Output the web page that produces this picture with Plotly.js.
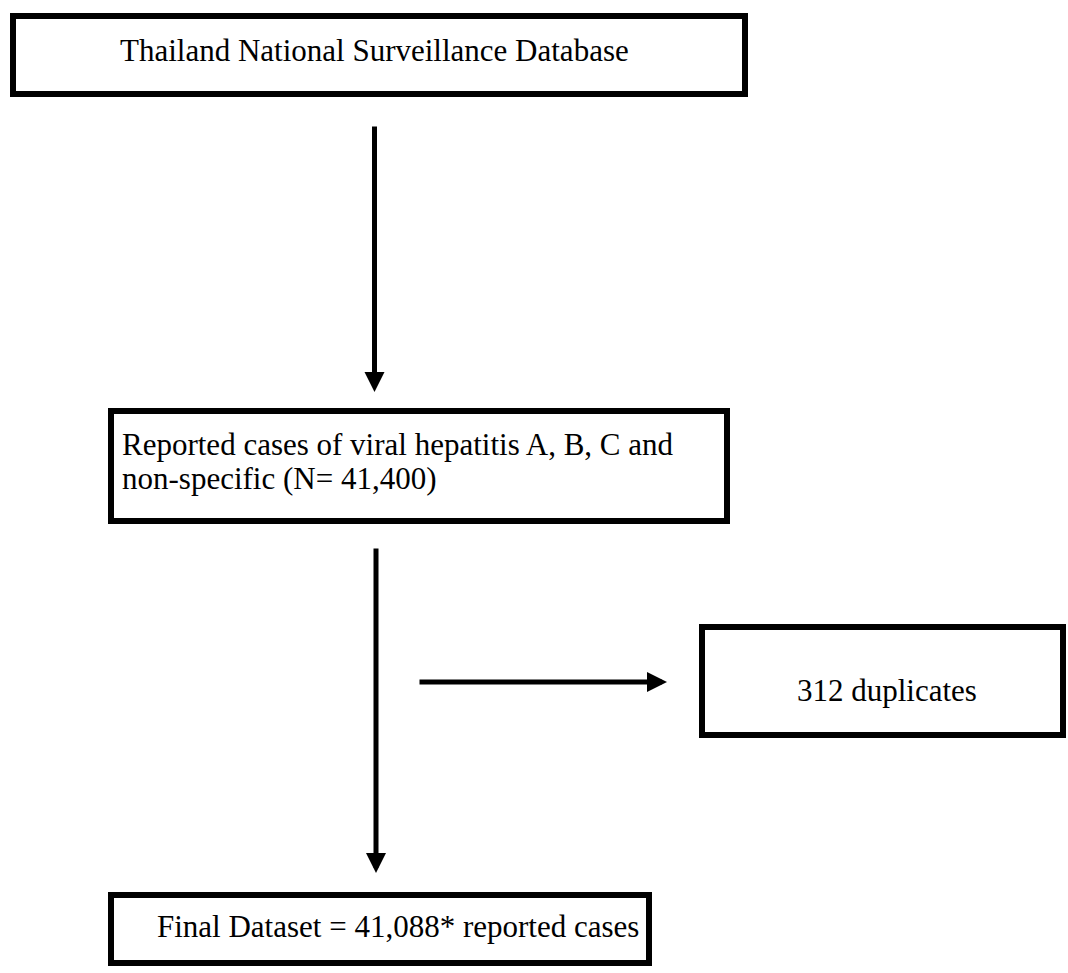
<!DOCTYPE html>
<html>
<head>
<meta charset="utf-8">
<script src="https://cdn.plot.ly/plotly-3.0.1.min.js"></script>
<style>html,body{margin:0;padding:0;background:#fff;}#chart{width:1068px;height:973px;}</style>
</head>
<body>
<div id="chart"></div>
<script>
// Flowchart content
const sourceLabel = "Thailand National Surveillance Database";
const reportedLines = ["Reported cases of viral hepatitis A, B, C and", "non-specific (N= 41,400)"];
const excludedLabel = "312 duplicates";
const finalLabel = "Final Dataset = 41,088* reported cases";

// Layout geometry (pixel space)
const boxes = [
  {x0: 13, x1: 745, y0: 16, y1: 94},
  {x0: 111, x1: 727, y0: 411, y1: 521},
  {x0: 702, x1: 1063, y0: 627, y1: 735},
  {x0: 111, x1: 649, y0: 895, y1: 963}
];
const arrows = [
  {x: 374.5, y: 392, ax: 374.5, ay: 125},
  {x: 376, y: 873, ax: 376, ay: 547},
  {x: 667, y: 682, ax: 418, ay: 682}
];

const font = {family: '"Liberation Serif", "Times New Roman", Times, serif', size: 31, color: "#000"};

const shapes = boxes.map(b => ({
  type: "rect", xref: "x", yref: "y", x0: b.x0, x1: b.x1, y0: b.y0, y1: b.y1,
  line: {color: "#000", width: 6}, fillcolor: "rgba(0,0,0,0)"
}));

const annotations = [
  {x: 118, y: 50, text: sourceLabel, xanchor: "left"},
  {x: 120, y: 444, text: reportedLines[0], xanchor: "left"},
  {x: 120, y: 478, text: reportedLines[1], xanchor: "left"},
  {x: 795, y: 690, text: excludedLabel, xanchor: "left"},
  {x: 155, y: 926, text: finalLabel, xanchor: "left"}
].map(a => Object.assign({xref: "x", yref: "y", yanchor: "middle", showarrow: false, font: font}, a));

arrows.forEach(a => annotations.push({
  xref: "x", yref: "y", axref: "x", ayref: "y",
  x: a.x, y: a.y, ax: a.ax, ay: a.ay, text: "",
  showarrow: true, arrowhead: 2, arrowsize: 0.8, arrowwidth: 5, arrowcolor: "#000", standoff: 0
}));

const layout = {
  width: 1068, height: 973,
  margin: {l: 0, r: 0, t: 0, b: 0},
  paper_bgcolor: "#fff", plot_bgcolor: "#fff",
  xaxis: {range: [0, 1068], visible: false, fixedrange: true},
  yaxis: {range: [973, 0], visible: false, fixedrange: true},
  shapes: shapes,
  annotations: annotations,
  showlegend: false
};

Plotly.newPlot("chart", [], layout, {staticPlot: true, displayModeBar: false});
</script>
</body>
</html>
